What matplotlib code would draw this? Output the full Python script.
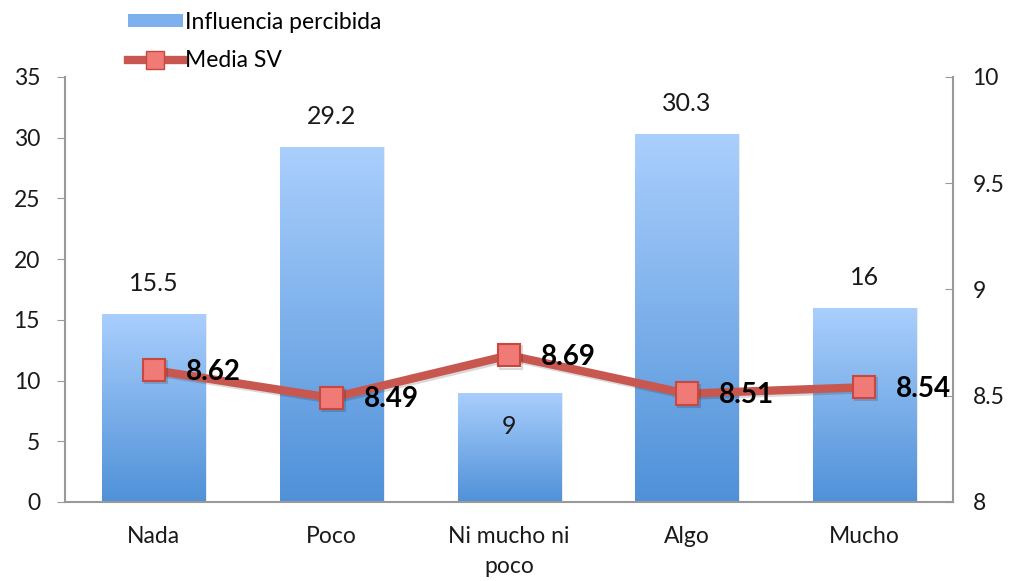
import matplotlib.pyplot as plt
import matplotlib.patheffects as pe
from matplotlib.colors import LinearSegmentedColormap
from matplotlib.patches import Patch
from matplotlib.lines import Line2D
import numpy as np

# categories and values
categories = ['Nada', 'Poco', 'Ni mucho ni\npoco', 'Algo', 'Mucho']
influencia = [15.5, 29.2, 9, 30.3, 16]
media_sv = [8.62, 8.49, 8.69, 8.51, 8.54]

bar_label = 'Influencia percibida'
line_label = 'Media SV'

plt.rcParams['font.family'] = ['Lato', 'DejaVu Sans']


def main():
    fig = plt.figure(figsize=(10.1, 5.81), dpi=100)
    ax = fig.add_axes([0.0644, 0.136, 0.8792, 0.7315])
    ax2 = ax.twinx()

    x = np.arange(len(categories))
    width = 0.58

    # bars with a vertical gradient, light on top
    blue = LinearSegmentedColormap.from_list('blue', ['#4f91d8', '#aacffd'])
    grad = np.linspace(0, 1, 256).reshape(-1, 1)
    bars = ax.bar(x, influencia, width, color='none', zorder=2)
    for b in bars:
        x0, y0 = b.get_x(), b.get_y()
        w, h = b.get_width(), b.get_height()
        shadow = plt.Rectangle((x0 + 0.012, y0), w, h, facecolor='#000000',
                               alpha=0.08, zorder=1, linewidth=0)
        ax.add_patch(shadow)
        im = ax.imshow(grad, cmap=blue, origin='lower', aspect='auto',
                       extent=(x0, x0 + w, y0, y0 + h), zorder=2)
        im.set_clip_path(b)

    # bar value labels
    for xi, v in zip(x, influencia):
        dy = -24 if v < 10 else 22
        ax.annotate(f'{v:g}', (xi, v), xytext=(0, dy), textcoords='offset points',
                    ha='center', va='center', fontsize=18, color='#1a1a1a', zorder=4)

    ax.set_xlim(-0.5, len(categories) - 0.5)
    ax.set_ylim(0, 35)
    ax.set_yticks(range(0, 36, 5))
    ax.set_xticks(x)
    ax.set_xticklabels(categories, fontsize=16.5, color='#1a1a1a', linespacing=1.55)
    ax.tick_params(axis='x', length=0, pad=17)
    ax.tick_params(axis='y', length=6, color='#999999', labelsize=16.5,
                   labelcolor='#1a1a1a', pad=12)

    # line on secondary axis
    shadow = [pe.SimpleLineShadow(offset=(1.5, -1.5), alpha=0.15), pe.Normal()]
    ax2.plot(x, media_sv, color='#c8584f', linewidth=6, solid_capstyle='round',
             zorder=3, path_effects=shadow)
    ax2.plot(x, media_sv, linestyle='none', marker='s', markersize=16,
             markerfacecolor='#f07a76', markeredgecolor='#c8473f',
             markeredgewidth=1.5, zorder=4, path_effects=shadow)
    for xi, v in zip(x, media_sv):
        ax2.annotate(f'{v:.2f}', (xi, v), xytext=(23, -1), textcoords='offset points',
                     ha='left', va='center', fontsize=20, fontweight='bold',
                     color='black', zorder=5)

    ax2.set_ylim(8, 10)
    ax2.set_yticks([8, 8.5, 9, 9.5, 10])
    ax2.set_yticklabels(['8', '8.5', '9', '9.5', '10'])
    ax2.tick_params(axis='y', direction='in', length=6, color='#999999',
                    labelsize=16.5, labelcolor='#1a1a1a', pad=14)

    for a in (ax, ax2):
        for s in a.spines.values():
            s.set_visible(False)
    ax.spines['left'].set_visible(True)
    ax.spines['bottom'].set_visible(True)
    ax2.spines['right'].set_visible(True)
    for s in (ax.spines['left'], ax.spines['bottom'], ax2.spines['right']):
        s.set_color('#999999')
        s.set_linewidth(1.5)
    ax.set_zorder(1)
    ax2.set_zorder(2)
    ax.patch.set_visible(False)

    handles = [Patch(facecolor='#7cb1ee', edgecolor='none'),
               Line2D([], [], color='#c8584f', linewidth=6, marker='s', markersize=13,
                      markerfacecolor='#f07a76', markeredgecolor='#c8473f')]
    fig.legend(handles, [bar_label, line_label], loc='upper left',
               bbox_to_anchor=(0.106, 1.015), frameon=False, fontsize=16.5,
               handlelength=2.4, handleheight=0.5, handletextpad=0.1,
               labelspacing=0.75)

    fig.savefig('out.png', dpi=100)


if __name__ == "__main__":
    main()
